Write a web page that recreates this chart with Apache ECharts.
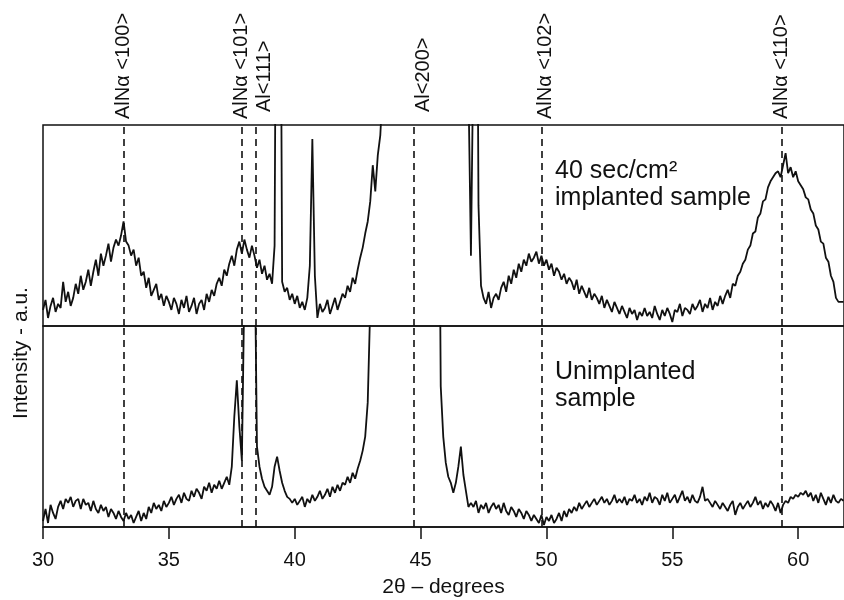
<!DOCTYPE html>
<html>
<head>
<meta charset="utf-8">
<script src="https://cdn.jsdelivr.net/npm/echarts@6/dist/echarts.min.js"></script>
<style>
  html, body { margin: 0; background: #fff; }
  #chart { width: 844px; height: 600px; }
</style>
</head>
<body>
<div id="chart"></div>
<script>
// scan sampling: 2theta from 30.0 in steps of 0.1 degree
const START = 30;
const STEP = 0.1;
const X_MAX = 61.82;

// intensity, 0 = panel floor, 100 = panel ceiling (higher values run off the panel)
const topScan = [
  8, 13, 4, 10, 14, 7, 11, 9, 22, 12,
  17, 10, 14, 21, 16, 25, 18, 22, 28, 20,
  27, 33, 25, 36, 30, 35, 41, 32, 39, 43,
  40, 45, 52, 42, 40, 35, 38, 30, 34, 25,
  27, 19, 24, 15, 18, 21, 13, 16, 10, 15,
  12, 8, 14, 11, 6, 13, 9, 15, 7, 10,
  14, 6, 11, 13, 8, 16, 12, 18, 15, 21,
  24, 20, 28, 25, 31, 35, 30, 38, 42, 36,
  43, 38, 34, 40, 35, 29, 33, 26, 30, 23,
  26, 21, 40, 300, 300, 22, 17, 19, 13, 16,
  11, 15, 9, 12, 8, 14, 30, 93, 25, 4,
  11, 7, 9, 13, 6, 10, 14, 8, 12, 16,
  14, 20, 17, 24, 21, 28, 34, 39, 46, 52,
  62, 80, 67, 85, 95, 120, 300, 300, 300, 300,
  300, 300, 300, 300, 300, 300, 300, 300, 300, 300,
  300, 300, 300, 300, 300, 300, 300, 300, 300, 300,
  300, 300, 300, 300, 300, 300, 300, 300, 300, 120,
  35, 140, 300, 60, 20, 14, 11, 17, 9, 14,
  16, 13, 19, 22, 17, 25, 21, 28, 24, 31,
  27, 33, 30, 36, 32, 34, 37, 31, 35, 30,
  33, 28, 31, 25, 29, 27, 23, 26, 21, 24,
  22, 18, 23, 16, 20, 17, 14, 19, 13, 16,
  14, 11, 15, 9, 13, 10, 7, 12, 9, 6,
  10, 7, 4, 9, 6, 8, 3, 7, 5, 9,
  5, 7, 4, 10, 6, 3, 8, 5, 9, 6,
  2, 8, 7, 11, 5, 9, 8, 6, 11, 8,
  10, 13, 7, 11, 9, 14, 8, 12, 10, 15,
  11, 15, 18, 14, 21, 20, 25, 27, 31, 33,
  38, 40, 46, 47, 54, 56, 62, 63, 69, 72,
  74, 76, 77, 74, 80, 86, 76, 79, 74, 77,
  72, 70, 68, 64, 63, 58, 56, 50, 48, 42,
  41, 34, 32, 25, 22, 14, 12, 12, 12
];

const bottomScan = [
  3, 9, 2, 11, 7, 4, 10, 13, 9, 14,
  12, 15, 10, 13, 14, 9, 14, 11, 12, 8,
  13, 9, 7, 11, 8, 10, 5, 9, 7, 4,
  8, 5, 3, 7, 4, 6, 2, 5, 8, 3,
  7, 4, 10, 7, 12, 9, 11, 8, 13, 10,
  12, 15, 11, 14, 16, 12, 17, 14, 13, 18,
  15, 19, 17, 14, 20, 18, 22, 17, 21, 19,
  23, 19, 22, 25, 21, 30, 55, 73, 50, 33,
  120, 300, 300, 300, 150, 40, 30, 24, 20, 18,
  16, 20, 30, 35, 28, 22, 18, 15, 14, 12,
  14, 11, 13, 15, 10, 14, 12, 16, 13, 15,
  18, 14, 16, 19, 15, 20, 17, 21, 18, 22,
  21, 25, 22, 27, 24, 29, 33, 38, 45, 62,
  110, 300, 300, 300, 300, 300, 300, 300, 300, 300,
  300, 300, 300, 300, 300, 300, 300, 300, 300, 300,
  300, 300, 300, 300, 300, 300, 300, 250, 70, 45,
  32, 25, 22, 17, 22, 30, 40, 26, 18, 10,
  12, 10, 13, 7, 11, 9, 12, 7, 10, 12,
  9, 11, 7, 12, 8, 6, 10, 8, 5, 9,
  7, 4, 8, 6, 3, 6, 4, 2, 6, 1,
  5, 3, 6, 2, 4, 7, 3, 8, 5, 9,
  7, 10, 8, 12, 9, 11, 13, 10, 12, 14,
  11, 13, 15, 12, 14, 11, 13, 16, 12, 14,
  12, 15, 11, 14, 13, 16, 12, 14, 11, 15,
  13, 17, 12, 15, 14, 11, 16, 13, 17, 12,
  14, 16, 12, 15, 18, 13, 15, 12, 16, 13,
  12, 15, 20, 13, 14, 12, 10, 13, 11, 9,
  12, 10, 8, 11, 13, 6, 10, 12, 9, 11,
  13, 10, 12, 15, 11, 13, 9, 12, 10, 13,
  11, 8, 12, 7, 11, 13, 12, 15, 14, 16,
  15, 17, 16, 18, 15, 17, 13, 16, 12, 17,
  14, 11, 15, 12, 16, 13, 12, 14, 13
];

// reference peak positions (dashed lines) and their labels
const refLines = [33.22, 37.9, 38.45, 44.74, 49.8, 59.34];
const peakNames = ['AlNα <100>', 'AlNα <101>', 'Al<111>', 'Al<200>', 'AlNα <102>', 'AlNα <110>'];
const labelAngles = [33.2, 37.9, 38.8, 45.1, 49.95, 59.35];
const labelRaised = [false, false, true, true, false, false];

const xTicks = [30, 35, 40, 45, 50, 55, 60];

const FONT = 'Liberation Sans, Arial, sans-serif';
const INK = '#111';

const angles = topScan.map((_, i) => +(START + i * STEP).toFixed(1));
const toPairs = arr => arr.map((v, i) => [angles[i], v]);

const chart = echarts.init(document.getElementById('chart'), null, { renderer: 'canvas' });

function refMarks() {
  return {
    symbol: 'none',
    silent: true,
    animation: false,
    label: { show: false },
    lineStyle: { color: INK, type: [7, 5], width: 1.6 },
    data: refLines.map(x => ({ xAxis: x }))
  };
}

function labelAxis(raised) {
  return {
    gridIndex: 0,
    type: 'value',
    position: 'top',
    min: START,
    max: X_MAX,
    axisLine: { show: false },
    axisTick: { show: false },
    splitLine: { show: false },
    axisLabel: {
      customValues: labelAngles.filter((_, i) => labelRaised[i] === raised),
      rotate: -90,
      margin: raised ? 13 : 6,
      fontSize: 20,
      fontFamily: FONT,
      color: INK,
      formatter: v => peakNames[labelAngles.indexOf(v)]
    }
  };
}

const options = {
  animation: false,
  grid: [
    { left: 43, right: -3, top: 125, height: 201, show: true, borderColor: INK, borderWidth: 1.5 },
    { left: 43, right: -3, top: 326, height: 201, show: true, borderColor: INK, borderWidth: 1.5 }
  ],
  xAxis: [
    { gridIndex: 0, type: 'value', min: START, max: X_MAX, show: false },
    labelAxis(false),
    labelAxis(true),
    {
      gridIndex: 1,
      type: 'value',
      min: START,
      max: X_MAX,
      splitLine: { show: false },
      axisLine: { lineStyle: { color: INK, width: 1.5 } },
      axisTick: { customValues: xTicks, length: 12, lineStyle: { color: INK, width: 1.5 } },
      axisLabel: { customValues: xTicks, margin: 23, fontSize: 20, fontFamily: FONT, color: INK },
      name: '2θ – degrees',
      nameLocation: 'middle',
      nameGap: 50,
      nameTextStyle: { fontSize: 21, fontFamily: FONT, color: INK }
    }
  ],
  yAxis: [
    { gridIndex: 0, type: 'value', min: 0, max: 100, show: false },
    { gridIndex: 1, type: 'value', min: 0, max: 100, show: false }
  ],
  series: [
    {
      name: '40 sec/cm² implanted',
      type: 'line',
      xAxisIndex: 0,
      yAxisIndex: 0,
      data: toPairs(topScan),
      showSymbol: false,
      clip: true,
      lineStyle: { color: INK, width: 1.8 },
      markLine: refMarks()
    },
    {
      name: 'Unimplanted',
      type: 'line',
      xAxisIndex: 3,
      yAxisIndex: 1,
      data: toPairs(bottomScan),
      showSymbol: false,
      clip: true,
      lineStyle: { color: INK, width: 1.8 },
      markLine: refMarks()
    }
  ],
  graphic: [
    {
      type: 'text', x: 21, y: 353, rotation: Math.PI / 2,
      style: { text: 'Intensity - a.u.', fontSize: 21, fontFamily: FONT, fill: INK, align: 'center', verticalAlign: 'middle' }
    },
    {
      type: 'text', x: 555, y: 158,
      style: { text: '40 sec/cm²\nimplanted sample', fontSize: 25, lineHeight: 27, fontFamily: FONT, fill: INK }
    },
    {
      type: 'text', x: 555, y: 359,
      style: { text: 'Unimplanted\nsample', fontSize: 25, lineHeight: 27, fontFamily: FONT, fill: INK }
    }
  ]
};

chart.setOption(options, true);
</script>
</body>
</html>
